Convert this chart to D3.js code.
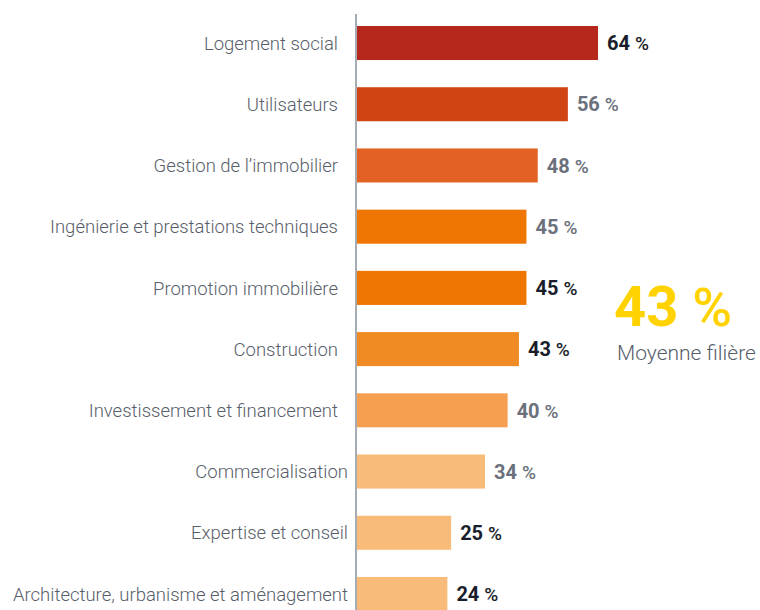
<!DOCTYPE html>
<html>
<head>
  <meta charset='utf-8'>
  <script src='https://d3js.org/d3.v7.min.js'></script>
  <style>
    body { margin: 0; background: #fff; }
    svg { display: block; font-family: Roboto, sans-serif; }
  </style>
</head>
<body>
<script>
const categories = [
  'Logement social',
  'Utilisateurs',
  'Gestion de l\u2019immobilier',
  'Ingénierie et prestations techniques',
  'Promotion immobilière',
  'Construction',
  'Investissement et financement',
  'Commercialisation',
  'Expertise et conseil',
  'Architecture, urbanisme et aménagement'
];
const values = [64, 56, 48, 45, 45, 43, 40, 34, 25, 24];
const barColors = ['#b5281b', '#d04414', '#e36125', '#ef7602', '#ef7602',
                   '#f08a22', '#f5a050', '#f9bb79', '#f9bb79', '#f9bb79'];
const labelDark = [true, false, false, false, true, true, false, false, true, true];
const average = 43;
const averageLabel = 'Moyenne filière';

const data = categories.map((c, i) => ({ cat: c, value: values[i], color: barColors[i], dark: labelDark[i] }));

const width = 760, height = 610;
const x0 = 357;

const svg = d3.select('body').append('svg')
  .attr('width', width).attr('height', height);

const x = d3.scaleLinear().domain([0, 64]).range([x0, 598]);
const y = d3.scaleBand()
  .domain(categories)
  .range([26, 611])
  .paddingInner(0.444)
  .paddingOuter(0);

svg.append('g')
  .selectAll('rect')
  .data(data)
  .join('rect')
  .attr('x', x(0))
  .attr('y', d => y(d.cat))
  .attr('width', d => x(d.value) - x(0))
  .attr('height', y.bandwidth())
  .attr('fill', d => d.color);

// axis line
svg.append('line')
  .attr('x1', 356).attr('x2', 356)
  .attr('y1', 14).attr('y2', height)
  .attr('stroke', '#8a8f99')
  .attr('stroke-width', 1.5);

// category labels
svg.append('g')
  .selectAll('text')
  .data(data)
  .join('text')
  .attr('x', (d, i) => i >= 7 ? 348 : 338)
  .attr('y', d => y(d.cat) + y.bandwidth() / 2)
  .attr('dy', '0.36em')
  .attr('text-anchor', 'end')
  .attr('font-size', 18.5)
  .attr('font-weight', 300)
  .attr('fill', '#575e6a')
  .text(d => d.cat);

// value labels
const vl = svg.append('g')
  .selectAll('text')
  .data(data)
  .join('text')
  .attr('x', d => x(d.value) + 9)
  .attr('y', d => y(d.cat) + y.bandwidth() / 2)
  .attr('dy', '0.36em')
  .attr('font-size', 20)
  .attr('font-weight', 700)
  .attr('fill', d => d.dark ? '#1a1e2b' : '#6b717c');
vl.append('tspan').text(d => d.value + ' ');
vl.append('tspan').attr('font-size', 19).attr('font-weight', 500).text('%');

// average callout
const avg = svg.append('text')
  .attr('x', 614)
  .attr('y', 326)
  .attr('font-size', 56)
  .attr('font-weight', 700)
  .attr('fill', '#ffd200');
avg.append('tspan').text(average + ' ');
avg.append('tspan').attr('font-size', 54).attr('font-weight', 500).text('%');

svg.append('text')
  .attr('x', 617)
  .attr('y', 360)
  .attr('font-size', 21)
  .attr('font-weight', 300)
  .attr('fill', '#575e6a')
  .text(averageLabel);
</script>
</body>
</html>
